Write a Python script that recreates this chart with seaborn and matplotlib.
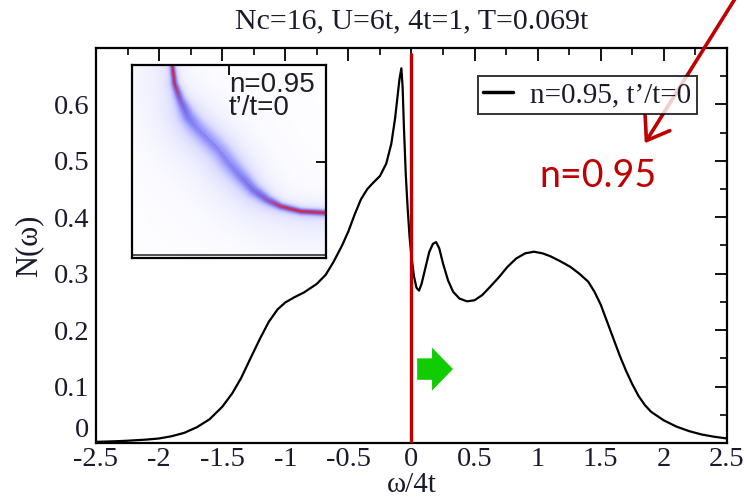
import numpy as np
import pandas as pd
import matplotlib
matplotlib.use("Agg")
import matplotlib.pyplot as plt
import seaborn as sns
from matplotlib.colors import LinearSegmentedColormap
from matplotlib.patches import FancyArrow
from matplotlib.ticker import MultipleLocator

# Density of states N(omega), omega in units of 4t
omega = [-2.50, -2.35, -2.25, -2.10, -2.00, -1.90, -1.80, -1.70, -1.60, -1.50,
         -1.42, -1.35, -1.28, -1.20, -1.13, -1.06, -1.00, -0.93, -0.85, -0.75,
         -0.68, -0.62, -0.55, -0.50, -0.45, -0.40, -0.35, -0.30, -0.25, -0.20,
         -0.16, -0.13, -0.11, -0.095, -0.08, -0.07, -0.06, -0.045, -0.03, -0.015,
         0.000, 0.020, 0.040, 0.060, 0.080, 0.110, 0.140, 0.170, 0.195, 0.220,
         0.250, 0.290, 0.330, 0.380, 0.440, 0.500, 0.560, 0.620, 0.690, 0.760,
         0.830, 0.900, 0.970, 1.040, 1.100, 1.180, 1.260, 1.330, 1.400, 1.450,
         1.500, 1.550, 1.600, 1.650, 1.700, 1.750, 1.800, 1.850, 1.900, 2.000,
         2.100, 2.200, 2.300, 2.400, 2.500]
dos = [0.002, 0.003, 0.004, 0.006, 0.008, 0.012, 0.018, 0.028, 0.042, 0.064,
       0.088, 0.115, 0.148, 0.185, 0.215, 0.237, 0.249, 0.258, 0.267, 0.282,
       0.298, 0.320, 0.350, 0.375, 0.405, 0.432, 0.450, 0.462, 0.473, 0.495,
       0.530, 0.575, 0.615, 0.645, 0.664, 0.630, 0.560, 0.475, 0.415, 0.365,
       0.330, 0.295, 0.275, 0.270, 0.282, 0.310, 0.338, 0.353, 0.356, 0.345,
       0.318, 0.288, 0.268, 0.256, 0.251, 0.253, 0.262, 0.276, 0.293, 0.312,
       0.327, 0.336, 0.339, 0.336, 0.331, 0.322, 0.312, 0.300, 0.286, 0.268,
       0.245, 0.215, 0.185, 0.155, 0.128, 0.104, 0.083, 0.067, 0.055, 0.040,
       0.029, 0.021, 0.015, 0.011, 0.008]

x_ticks = [-2.5, -2.0, -1.5, -1.0, -0.5, 0.0, 0.5, 1.0, 1.5, 2.0, 2.5]
x_tick_labels = ["-2.5", "-2", "-1.5", "-1", "-0.5", "0", "0.5", "1", "1.5", "2", "2.5"]
y_ticks = [0.0, 0.1, 0.2, 0.3, 0.4, 0.5, 0.6]
y_tick_labels = ["0", "0.1", "0.2", "0.3", "0.4", "0.5", "0.6"]

title_text = "Nc=16, U=6t, 4t=1, T=0.069t"
legend_label = "n=0.95, t\u2019/t=0"
inset_text = "n=0.95\nt\u2019/t=0"
note_text = "n=0.95"

# Quasiparticle ridge of the inset spectral map (inset axes fractions)
ridge_x = [0.204, 0.206, 0.218, 0.249, 0.292, 0.335, 0.404, 0.455, 0.507,
           0.558, 0.627, 0.696, 0.765, 0.868, 1.000, 1.050]
ridge_y = [1.050, 1.000, 0.905, 0.819, 0.733, 0.681, 0.612, 0.560, 0.491,
           0.431, 0.353, 0.302, 0.267, 0.241, 0.233, 0.232]
ridge_weight = [1.0, 1.0, 0.92, 0.68, 0.54, 0.47, 0.45, 0.45, 0.47,
                0.51, 0.58, 0.72, 0.90, 1.0, 1.0, 1.0]
ridge_width = [0.010, 0.010, 0.013, 0.022, 0.040, 0.048, 0.052, 0.052, 0.050,
               0.043, 0.032, 0.021, 0.014, 0.012, 0.012, 0.012]

sns.set_theme(style="white")
plt.rcParams["font.family"] = ["Liberation Serif", "DejaVu Serif"]
ink = "#1a1a2e"

fig = plt.figure(figsize=(7.48, 5.01), dpi=100)
ax = fig.add_axes([0.1283, 0.1158, 0.8436, 0.7884])

df = pd.DataFrame({"omega": omega, "dos": dos})
sns.lineplot(data=df, x="omega", y="dos", ax=ax, color="black", lw=1.6,
             label=legend_label, errorbar=None)

# Fermi level marker
ax.plot([0, 0], [0, 0.69], color="#c00000", lw=2.4, zorder=3)

# Green arrow pointing to positive energies
ax.add_patch(FancyArrow(0.045, 0.131, 0.284, 0, width=0.038, head_width=0.076,
                        head_length=0.166, length_includes_head=True,
                        color="#11cc00", lw=0, zorder=4))

ax.set_xlim(-2.5, 2.5)
ax.set_ylim(0, 0.70)
ax.set_xticks(x_ticks, x_tick_labels)
ax.set_yticks(y_ticks, y_tick_labels)
ax.xaxis.set_minor_locator(MultipleLocator(0.25))
ax.yaxis.set_minor_locator(MultipleLocator(0.05))
ax.tick_params(which="both", direction="in", top=True, right=True,
               color="black", labelsize=20.5, labelcolor=ink)
ax.tick_params(which="major", length=9, width=1.3)
ax.tick_params(which="minor", length=5, width=1.2)
ax.tick_params(axis="x", pad=3)
ax.tick_params(axis="y", pad=5)
for sp in ax.spines.values():
    sp.set_color("black")
    sp.set_linewidth(1.6)
# lift the "0" on the y axis a touch so it clears the "-2.5" below it
ax.get_yticklabels()[0].set_verticalalignment("bottom")
ax.get_yticklabels()[0].set_y(-0.016)

ax.set_xlabel("\u03c9/4t", fontsize=21, labelpad=0, color=ink)
ax.set_ylabel("N(\u03c9)", fontsize=22, labelpad=7, color=ink)
ax.set_title(title_text, fontsize=21.5, pad=14, color=ink)

leg = ax.legend(loc="upper right", bbox_to_anchor=(0.9525, 0.929),
                borderaxespad=0, fontsize=21, frameon=True, fancybox=False,
                handlelength=1.0, handletextpad=0.6, borderpad=0.2)
leg.get_frame().set_edgecolor("black")
leg.get_frame().set_linewidth(1.4)
for line in leg.get_lines():
    line.set_linewidth(2.5)
for txt in leg.get_texts():
    txt.set_color(ink)

# Inset: spectral intensity map around the quasiparticle ridge
ins = fig.add_axes([0.1765, 0.485, 0.2594, 0.385])
n = 200
gx, gy = np.meshgrid(np.linspace(0, 1, n), np.linspace(0, 1, n))
rx = np.asarray(ridge_x)
ry = np.asarray(ridge_y)
arc = np.concatenate([[0], np.cumsum(np.hypot(np.diff(rx), np.diff(ry)))])
s = np.linspace(0, arc[-1], 500)
px = np.interp(s, arc, rx)
py = np.interp(s, arc, ry)
pw = np.interp(s, arc, ridge_weight)
pwid = np.interp(s, arc, ridge_width)
inten = np.zeros_like(gx)
dmin = np.full_like(gx, 10.0)
for xk, yk, wk, sk in zip(px, py, pw, pwid):
    d2 = (gx - xk) ** 2 + (gy - yk) ** 2
    inten = np.maximum(inten, wk / (1 + d2 / sk ** 2))
    dmin = np.minimum(dmin, d2)
dmin = np.sqrt(dmin)
below = gy < np.interp(gx, rx, ry, left=2.0)
haze = np.where(below, 0.13, 0.05) / (1 + (dmin / 0.16) ** 2)
inten = np.clip(inten + haze, 0, 1)

spec_cmap = LinearSegmentedColormap.from_list(
    "spec", [(0.0, "#ffffff"), (0.08, "#f3f3ff"), (0.25, "#dadaff"),
             (0.42, "#b0b0ff"), (0.55, "#8c8cf8"), (0.72, "#7c6ae6"),
             (0.86, "#b24a92"), (1.0, "#d02840")])
ins.imshow(inten, extent=[0, 1, 0, 1], origin="lower", cmap=spec_cmap,
           vmin=0, vmax=1, aspect="auto", interpolation="bilinear")
ins.set_xlim(0, 1)
ins.set_ylim(0, 1)
ins.set_xticks([0.5])
ins.set_yticks([0.5])
ins.tick_params(which="both", direction="in", top=True, right=True,
                labelbottom=False, labelleft=False, length=7, width=1.3,
                color="black")
for sp in ins.spines.values():
    sp.set_color("black")
    sp.set_linewidth(1.6)
ins.axhline(0.014, color="#333333", lw=1.2)
ins.text(0.5, 0.965, inset_text, transform=ins.transAxes, ha="left", va="top",
         fontsize=20, family=["Liberation Sans", "DejaVu Sans"],
         color="#1e1e28", linespacing=0.88)

# Red annotation arrow and label
ax.annotate("", xy=(0.862, 0.714), xycoords="figure fraction",
            xytext=(0.99, 1.02), textcoords="figure fraction",
            arrowprops=dict(arrowstyle="->,head_length=0.5,head_width=0.35",
                            color="#c00000", lw=2.6,
                            mutation_scale=30, shrinkA=0, shrinkB=0),
            annotation_clip=False)
fig.text(0.7995, 0.6487, note_text, ha="center", va="center", fontsize=27,
         color="#c00000", family=["Lato", "DejaVu Sans"])

fig.savefig("out.png", dpi=100)
